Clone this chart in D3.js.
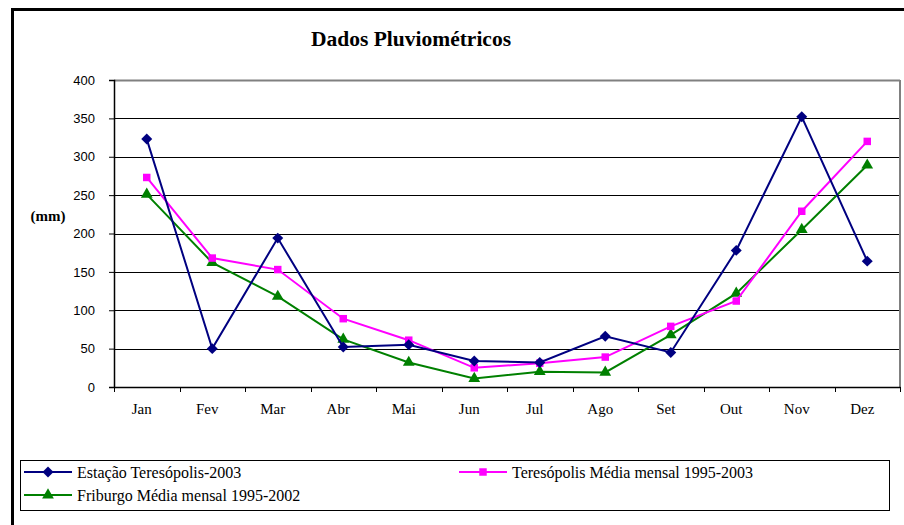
<!DOCTYPE html>
<html><head><meta charset="utf-8">
<script src="https://cdn.jsdelivr.net/npm/d3@7"></script>
<style>body{margin:0;background:#fff}svg{display:block}
.serif{font-family:"Liberation Serif","Times New Roman",Times,"DejaVu Serif",serif}
.sans{font-family:Arial,"Liberation Sans",sans-serif}
</style>
</head><body>
<script>
const months = ["Jan","Fev","Mar","Abr","Mai","Jun","Jul","Ago","Set","Out","Nov","Dez"];
const estacao2003 = [323,50,194,52,55,34,32,66,45,178,352,164];
const teresMedia = [273,168,153,89,61,25,31,39,79,112,229,320];
const friburgoMedia = [251,162,118,62,32,11,20,19,68,122,205,289];
const yTicks = [0,50,100,150,200,250,300,350,400];
const seriesNames = ["Estação Teresópolis-2003","Teresópolis Média mensal 1995-2003","Friburgo Média mensal 1995-2002"];

const W=904,H=525;
const svg=d3.select("body").append("svg").attr("width",W).attr("height",H);
svg.append("rect").attr("x",12.5).attr("y",9.5).attr("width",W+20).attr("height",H+20)
  .attr("fill","#fff").attr("stroke","#000").attr("stroke-width",3);

const L=114,R=900,T=80,B=387;
const x=d3.scaleBand().domain(months).range([L,R]);
const y=d3.scaleLinear().domain([0,400]).range([B,T]);

svg.append("g").selectAll("line").data(yTicks.filter(d=>d>0&&d<400)).join("line")
  .attr("x1",L).attr("x2",R).attr("y1",d=>Math.round(y(d))+0.5).attr("y2",d=>Math.round(y(d))+0.5)
  .attr("stroke","#000").attr("stroke-width",1);
svg.append("line").attr("x1",L).attr("x2",R).attr("y1",T+0.5).attr("y2",T+0.5).attr("stroke","#808080").attr("stroke-width",2);
svg.append("line").attr("x1",R).attr("x2",R).attr("y1",T).attr("y2",B).attr("stroke","#808080").attr("stroke-width",2);

const yAxis=d3.axisLeft(y).tickValues(yTicks).tickSize(5).tickPadding(14);
const gy=svg.append("g").attr("transform",`translate(${L},0)`).call(yAxis);
gy.attr("font-family",null).attr("font-size",null);
gy.select(".domain").attr("stroke","#000").attr("stroke-width",1.5);
gy.selectAll(".tick line").attr("stroke","#000");
gy.selectAll("text").attr("class","sans").style("font-size","13px").attr("fill","#000");

const xAxis=d3.axisBottom(x).tickSize(0).tickPadding(16);
const gx=svg.append("g").attr("transform",`translate(0,${B})`).call(xAxis);
gx.attr("font-family",null).attr("font-size",null);
gx.select(".domain").attr("stroke","#000").attr("stroke-width",1.5);
gx.selectAll("text").attr("class","serif").attr("dx",-5).style("font-size","15px").attr("fill","#000");
svg.append("g").selectAll("line").data(months.concat(["end"])).join("line")
  .attr("x1",(d,i)=>Math.round(L+i*x.bandwidth())+0.5).attr("x2",(d,i)=>Math.round(L+i*x.bandwidth())+0.5)
  .attr("y1",B).attr("y2",B+5).attr("stroke","#000");

svg.append("text").attr("x",411).attr("y",46).attr("text-anchor","middle").attr("class","serif")
  .style("font-weight","bold").style("font-size","21.5px")
  .text("Dados Pluviométricos");
svg.append("text").attr("x",48).attr("y",221).attr("text-anchor","middle").attr("class","serif")
  .style("font-weight","bold").style("font-size","15px")
  .text("(mm)");

const cx=d=>x(d)+x.bandwidth()/2;
const diamond={draw(ctx,size){const r=Math.sqrt(size/2);ctx.moveTo(0,-r);ctx.lineTo(r,0);ctx.lineTo(0,r);ctx.lineTo(-r,0);ctx.closePath();}};
const series=[
  {name:seriesNames[0],vals:estacao2003,color:"#000080",sym:diamond,size:60},
  {name:seriesNames[1],vals:teresMedia,color:"#FF00FF",sym:d3.symbolSquare,size:56},
  {name:seriesNames[2],vals:friburgoMedia,color:"#008000",sym:d3.symbolTriangle,size:60}
];
const line=d3.line().x(d=>cx(d.m)).y(d=>y(d.v));
[2,1,0].forEach(i=>{
  const s=series[i];
  const pts=s.vals.map((v,j)=>({m:months[j],v}));
  svg.append("path").datum(pts).attr("d",line).attr("fill","none").attr("stroke",s.color).attr("stroke-width",2);
  svg.append("g").selectAll("path").data(pts).join("path")
    .attr("d",d3.symbol().type(s.sym).size(s.size))
    .attr("transform",d=>`translate(${cx(d.m)},${y(d.v)})`).attr("fill",s.color);
});

svg.append("rect").attr("x",20.5).attr("y",460.5).attr("width",869).attr("height",50)
  .attr("fill","#fff").attr("stroke","#000").attr("stroke-width",1);
const leg=[{s:series[0],x:24,y:472},{s:series[1],x:459,y:472},{s:series[2],x:24,y:495}];
leg.forEach(l=>{
  svg.append("line").attr("x1",l.x).attr("x2",l.x+48).attr("y1",l.y).attr("y2",l.y).attr("stroke",l.s.color).attr("stroke-width",2);
  svg.append("path").attr("d",d3.symbol().type(l.s.sym).size(l.s.size)).attr("transform",`translate(${l.x+24},${l.y})`).attr("fill",l.s.color);
  svg.append("text").attr("x",l.x+53).attr("y",l.y+5.5).attr("class","serif").style("font-size","16px").text(l.s.name);
});
</script>
</body></html>
